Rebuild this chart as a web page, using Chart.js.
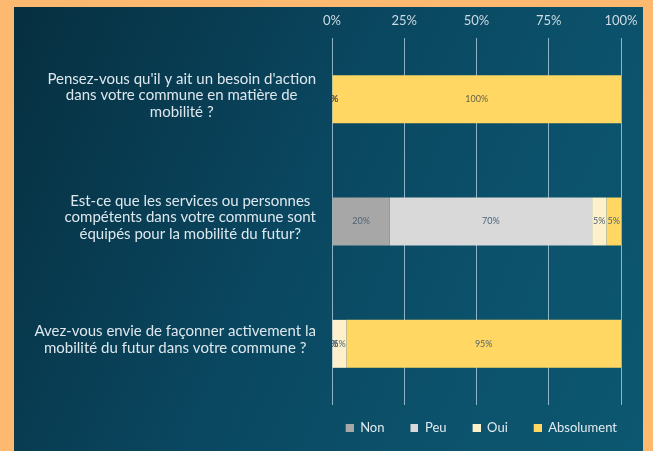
<!DOCTYPE html>
<html>
<head>
<meta charset="utf-8">
<script src="https://cdn.jsdelivr.net/npm/chart.js@4"></script>
<style>
  html, body { margin: 0; padding: 0; background: #fdb96f; width: 653px; height: 451px; overflow: hidden; }
  #wrap {
    position: absolute; left: 14px; top: 7px; width: 629px; height: 444px;
    background: linear-gradient(115deg, #062f40 0%, #0a4760 45%, #0c526c 75%, #0c5771 100%);
  }
</style>
</head>
<body>
<div id="wrap"><canvas id="chart"></canvas></div>
<script>
// questions (y categories), one array per label so the lines break like the original
const questions = [
  ["Pensez-vous qu'il y ait un besoin d'action", "dans votre commune en matière de", "mobilité ?"],
  ["Est-ce que les services ou personnes", "compétents dans votre commune sont", "équipés pour la mobilité du futur?"],
  ["Avez-vous envie de façonner activement la", "mobilité du futur dans votre commune ?"]
];

// answers in percent
const non = [0, 20, 0];
const peu = [0, 70, 0];
const oui = [0, 5, 5];
const absolument = [100, 5, 95];

const seriesNames = ['Non', 'Peu', 'Oui', 'Absolument'];
const seriesColors = ['#a7a7a7', '#d9d9d9', '#fdf0cb', '#ffd762'];
const tickValues = [0, 25, 50, 75, 100];

const FONT = 'Lato';
const KEY_W = 30; // legend key canvas: transparent gap + 8px square on the right

// small legend key: square sits at the right end so the gap comes before it
function legendKey(color) {
  const c = document.createElement('canvas');
  c.width = KEY_W;
  c.height = 8;
  const g = c.getContext('2d');
  g.fillStyle = color;
  g.fillRect(KEY_W - 8, 0, 8, 8);
  return c;
}

// draws the value on each segment, zeros too (like Excel does), clipped to the plot
const valueLabels = {
  id: 'valueLabels',
  afterDatasetsDraw(chart) {
    const ctx = chart.ctx;
    const a = chart.chartArea;
    ctx.save();
    ctx.beginPath();
    ctx.rect(a.left, a.top, a.right - a.left, a.bottom - a.top);
    ctx.clip();
    ctx.font = '9px ' + FONT;
    ctx.textAlign = 'center';
    ctx.textBaseline = 'middle';
    chart.data.datasets.forEach((ds, i) => {
      const meta = chart.getDatasetMeta(i);
      meta.data.forEach((bar, j) => {
        const p = bar.getCenterPoint();
        ctx.fillStyle = j === 0 ? '#66644f' : '#4d6475';
        ctx.fillText(ds.data[j] + '%', p.x, p.y);
      });
    });
    ctx.restore();
  }
};

// category labels: each block right-aligned to the axis, its lines centered inside it
const questionLabels = {
  id: 'questionLabels',
  afterDraw(chart) {
    const ctx = chart.ctx;
    const yScale = chart.scales.y;
    const right = chart.chartArea.left - 16;
    const lh = 16.5;
    ctx.save();
    ctx.font = '15px ' + FONT;
    ctx.fillStyle = '#dde7ed';
    ctx.textAlign = 'center';
    ctx.textBaseline = 'middle';
    chart.data.labels.forEach((lines, i) => {
      const w = Math.max(...lines.map(l => ctx.measureText(l).width));
      const cx = right - w / 2;
      const cy = yScale.getPixelForTick(i) - 4;
      lines.forEach((line, k) => {
        ctx.fillText(line, cx, cy + (k - (lines.length - 1) / 2) * lh);
      });
    });
    ctx.restore();
  }
};

const datasets = [non, peu, oui, absolument].map((values, i) => ({
  label: seriesNames[i],
  data: values,
  backgroundColor: seriesColors[i],
  borderWidth: 0,
  pointStyle: legendKey(seriesColors[i]),
  categoryPercentage: 0.4,
  barPercentage: 0.98
}));

new Chart(document.getElementById('chart'), {
  type: 'bar',
  data: { labels: questions, datasets: datasets },
  options: {
    indexAxis: 'y',
    responsive: true,
    maintainAspectRatio: false,
    animation: false,
    layout: { padding: { left: 0, right: 22, top: 0, bottom: 7 } },
    scales: {
      x: {
        position: 'top',
        stacked: true,
        min: 0,
        max: 100,
        afterBuildTicks(scale) {
          scale.ticks = tickValues.map(v => ({ value: v }));
        },
        afterFit(scale) {
          scale.height = 31;
          scale.paddingLeft = 0;
          scale.paddingRight = 0;
        },
        ticks: {
          color: '#cddbe4',
          font: { family: FONT, size: 13 },
          padding: 9,
          callback: v => v + '%'
        },
        grid: { color: 'rgba(175,205,222,0.8)', lineWidth: 1, drawTicks: false },
        border: { display: false }
      },
      y: {
        stacked: true,
        afterFit(scale) { scale.width = 318; },
        ticks: { display: false },
        grid: { display: false, drawTicks: false },
        border: { display: false }
      }
    },
    plugins: {
      legend: {
        position: 'bottom',
        align: 'end',
        title: { display: true, text: '', font: { size: 10 }, padding: 0 },
        labels: {
          color: '#e2eaef',
          font: { family: FONT, size: 13 },
          usePointStyle: true,
          pointStyleWidth: KEY_W,
          boxHeight: 8,
          padding: 4
        }
      },
      tooltip: { enabled: false }
    }
  },
  plugins: [valueLabels, questionLabels]
});
</script>
</body>
</html>
